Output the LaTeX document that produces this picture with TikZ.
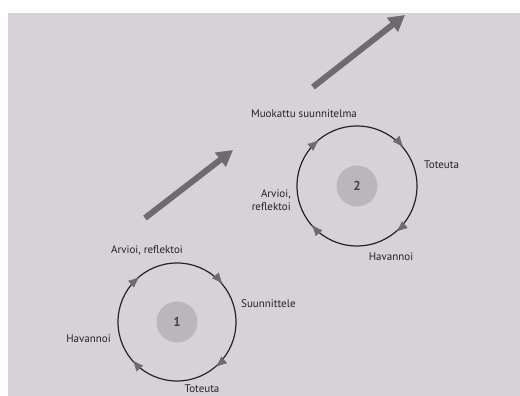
\documentclass[tikz,border=0pt]{standalone}
\usepackage{fontspec}
\setmainfont{PT Sans}
\usetikzlibrary{arrows.meta,decorations.markings}
\definecolor{paper}{HTML}{D6D2D8}
\definecolor{ink}{HTML}{242326}
\definecolor{tipgray}{HTML}{6E6A71}
\definecolor{hubgray}{HTML}{BBB5BC}
\begin{document}
\begin{tikzpicture}[x=1pt,y=1pt,
  ring/.style={circle,draw=ink,line width=1.2pt,minimum size=#1,inner sep=0pt},
  hub/.style={circle,fill=hubgray,minimum size=41pt,inner sep=0pt,text=ink!85,font=\bfseries\fontsize{13}{14}\selectfont},
  lbl/.style={text=ink,font=\fontsize{11}{12.5}\selectfont,inner sep=1pt},
  cyc/.style={draw=none,postaction={decorate},decoration={markings,
    mark=at position 0.138 with {\arrow[tipgray]{Latex[length=11pt,width=9pt]}},
    mark=at position 0.388 with {\arrow[tipgray]{Latex[length=11pt,width=9pt]}},
    mark=at position 0.638 with {\arrow[tipgray]{Latex[length=11pt,width=9pt]}},
    mark=at position 0.888 with {\arrow[tipgray]{Latex[length=11pt,width=9pt]}}}},
  bigarrow/.style={draw=tipgray,line width=6pt,-{Triangle[length=16pt,width=17pt]}}]
  % Page
  \useasboundingbox (0,0) rectangle (520,396);
  \fill[white] (0,0) rectangle (520,396);
  \fill[paper] (8,0) rectangle (520,383);
  % Circle 1
  \node[ring=118pt] (c1) at (177,74) {};
  \node[hub] (h1) at (c1) {1};
  \path[cyc] (c1.east) arc[start angle=0,end angle=-360,radius=59];
  \node[lbl] (a1) at (147,146) {Arvioi, reflektoi};
  \node[lbl,anchor=west] (s1) at (240,92) {Suunnittele};
  \node[lbl,anchor=east] (v1) at (112,57) {Havannoi};
  \node[lbl] (t1) at (202,7.5) {Toteuta};
  % Circle 2
  \node[ring=120pt] (c2) at (357,210) {};
  \node[hub] (h2) at (c2) {2};
  \path[cyc] (c2.east) arc[start angle=0,end angle=-360,radius=60];
  \node[lbl] (m2) at (304,282) {Muokattu suunnitelma};
  \node[lbl,anchor=west] (t2) at (423,231) {Toteuta};
  \node[lbl,anchor=east,align=right] (a2) at (292,196) {Arvioi,\\reflektoi};
  \node[lbl] (v2) at (391,139) {Havannoi};
  % Progress arrows
  \coordinate (p1) at (145,178);
  \coordinate (q1) at (233,246);
  \coordinate (p2) at (313,309);
  \coordinate (q2) at (405,381);
  \draw[bigarrow] (p1) -- (q1);
  \draw[bigarrow] (p2) -- (q2);
\end{tikzpicture}
\end{document}
